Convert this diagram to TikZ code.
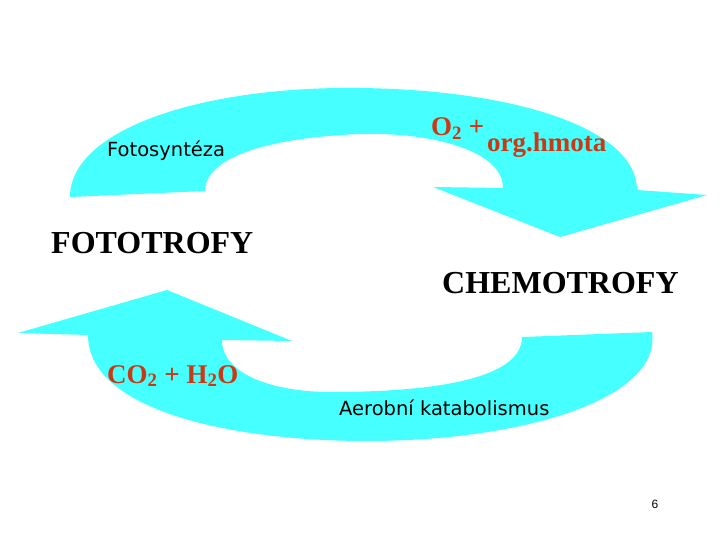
\documentclass[tikz,border=0pt]{standalone}
\usepackage{fontspec}
\usepackage{tikz}
\setmainfont{Liberation Serif}
\newfontfamily\labelfont{DejaVu Sans}
\newfontfamily\pagefont{Liberation Sans}
\definecolor{cyclecyan}{RGB}{70,255,255}
\definecolor{mattercol}{RGB}{204,55,20}
\tikzstyle{cyclearrow} = [fill=cyclecyan, draw=none]
\tikzstyle{group} = [inner sep=0pt, anchor=base west, font=\fontsize{32}{32}\selectfont\bfseries]
\tikzstyle{matter} = [inner sep=0pt, anchor=base west, text=mattercol, font=\fontsize{27}{27}\selectfont\bfseries]
\tikzstyle{process} = [inner sep=0pt, anchor=base west, font=\fontsize{19.5}{19.5}\selectfont\labelfont]

\begin{document}
\begin{tikzpicture}[x=1pt,y=-1pt]
\useasboundingbox (0,0) rectangle (720,540);
% upper arrow: photosynthesis
\path [cyclearrow] (70,197) -- (205,191)
  .. controls (205,160) and (260,138) .. (360,134)
  .. controls (430,132) and (503,150) .. (503,188)
  -- (433,187) -- (560,237) -- (707,195) -- (637,190)
  .. controls (637,130) and (520,90) .. (360,88)
  .. controls (200,86) and (70,130) .. (70,197) -- cycle;
% lower arrow: aerobic catabolism
\path [cyclearrow] (522,337) -- (652,332)
  .. controls (662,400) and (520,441) .. (367,441)
  .. controls (230,441) and (88,410) .. (88,335)
  -- (18,333) -- (167,290) -- (292,341) -- (222,340)
  .. controls (222,375) and (275,392) .. (330,392)
  .. controls (430,392) and (522,380) .. (522,337) -- cycle;

\node (photo) [process] at (107,157) {Fotosyntéza};
\node (aerob) [process] at (339,415) {Aerobní katabolismus};
\node (foto) [group] at (51,254) {FOTOTROFY};
\node (chemo) [group] at (442,293) {CHEMOTROFY};
\node (oxygen) [matter] at (431,136) {O\textsubscript{2} +};
\node (organic) [matter] at (487,152) {org.hmota};
\node (water) [matter] at (107,383) {CO\textsubscript{2} + H\textsubscript{2}O};
\node (page) [inner sep=0pt, anchor=base, font=\fontsize{12}{12}\selectfont\pagefont] at (655,508) {6};
\end{tikzpicture}
\end{document}
